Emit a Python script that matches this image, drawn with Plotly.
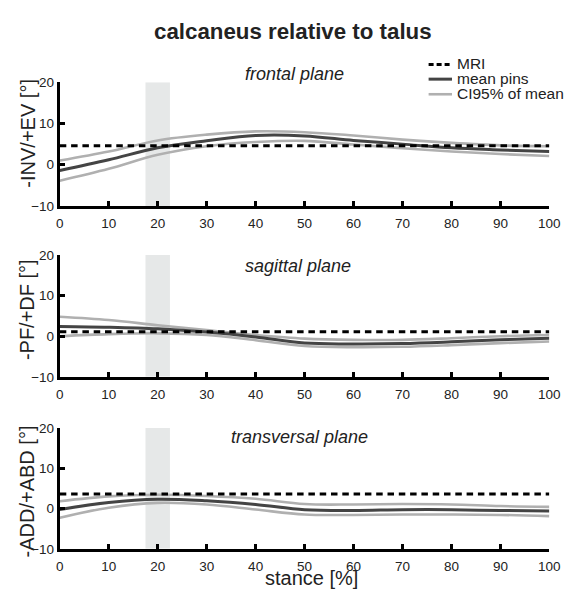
import plotly.graph_objects as go

# ---------------- data ----------------
STANCE = [0, 10, 20, 30, 40, 50, 60, 70, 80, 90, 100]
X_TICKS = [0, 10, 20, 30, 40, 50, 60, 70, 80, 90, 100]
Y_TICKS = [-10, 0, 10, 20]
SHADE = [17.5, 22.5]

PLANES = ["frontal plane", "sagittal plane", "transversal plane"]
Y_TITLES = ["-INV/+EV [°]", "-PF/+DF [°]", "-ADD/+ABD [°]"]

MRI = [4.6, 1.1, 3.6]

frontal_mean = [-1.4, 1.2, 4.1, 5.8, 7.1, 7.0, 5.9, 5.0, 4.1, 3.6, 3.2]
frontal_upper = [1.0, 3.2, 5.9, 7.3, 8.1, 7.9, 7.1, 6.1, 5.3, 4.7, 4.5]
frontal_lower = [-3.9, -1.0, 2.4, 4.5, 5.5, 5.8, 4.9, 4.0, 3.2, 2.6, 2.1]

sagittal_mean = [2.4, 2.2, 1.8, 1.0, -0.2, -1.7, -1.9, -1.8, -1.4, -0.9, -0.5]
sagittal_upper = [4.8, 4.0, 2.7, 1.5, 0.3, -0.6, -0.9, -0.9, -0.5, 0.0, 0.3]
sagittal_lower = [0.0, 0.5, 0.7, 0.3, -1.0, -2.4, -2.7, -2.6, -2.2, -1.7, -1.3]

transversal_mean = [-0.25, 1.5, 2.3, 1.9, 1.0, -0.3, -0.5, -0.3, -0.3, -0.5, -0.6]
transversal_upper = [1.8, 3.0, 3.4, 3.1, 2.4, 1.1, 1.0, 1.1, 1.0, 0.6, 0.4]
transversal_lower = [-2.3, 0.2, 1.4, 1.0, -0.25, -1.5, -1.6, -1.5, -1.5, -1.6, -1.9]

MEANS = [frontal_mean, sagittal_mean, transversal_mean]
UPPERS = [frontal_upper, sagittal_upper, transversal_upper]
LOWERS = [frontal_lower, sagittal_lower, transversal_lower]

LEGEND_LABELS = ["MRI", "mean pins", "CI95% of mean"]

# ---------------- layout constants ----------------
W, H = 574, 599
FONT = "Liberation Sans, Arial, sans-serif"
C_MEAN = "#444444"
C_CI = "#b0b0b0"
C_SHADE = "#e6e8e8"

def px(xp):
    return xp / W

def py(yp):
    return 1 - yp / H

X_DOMAIN = [px(57.3), px(560)]
Y_PIX = [(77.3, 204.0), (254.3, 379.3), (431.7, 555.7)]  # (top, bottom)
X_LABEL_STANDOFF = [3, 3, 3]
SUB_TITLE_POS = [(298, 69), (302, 266), (303, 441)]
Y_TITLE_POS = [(24.5, 129), (23.5, 310), (23.5, 497)]

fig = go.Figure()

for i in range(3):
    xa = "x" if i == 0 else f"x{i+1}"
    ya = "y" if i == 0 else f"y{i+1}"
    common = dict(xaxis=xa, yaxis=ya, mode="lines", showlegend=False, hoverinfo="skip")
    fig.add_trace(go.Scatter(x=STANCE, y=UPPERS[i], line=dict(color=C_CI, width=2.6, shape="spline"), **common))
    fig.add_trace(go.Scatter(x=STANCE, y=LOWERS[i], line=dict(color=C_CI, width=2.6, shape="spline"), **common))
    fig.add_trace(go.Scatter(x=STANCE, y=MEANS[i], line=dict(color=C_MEAN, width=3, shape="spline"), **common))
    fig.add_trace(go.Scatter(x=[X_TICKS[0], X_TICKS[-1]], y=[MRI[i], MRI[i]],
                             line=dict(color="black", width=3, dash="6.5px,4.8px"), **common))

    fig.add_shape(type="rect", xref=xa, yref=ya, x0=SHADE[0], x1=SHADE[1],
                  y0=Y_TICKS[0], y1=Y_TICKS[-1], fillcolor=C_SHADE, line_width=0, layer="below")

    top, bot = Y_PIX[i]
    axsuffix = "" if i == 0 else str(i + 1)
    fig.layout["xaxis" + axsuffix] = dict(
        domain=X_DOMAIN, anchor=ya, range=[0, 100], tickvals=X_TICKS,
        showline=True, linewidth=3, linecolor="black", ticks="inside", ticklen=5,
        tickwidth=2.5, tickcolor="black", showgrid=False, zeroline=False,
        ticklabelstandoff=X_LABEL_STANDOFF[i],
        tickfont=dict(size=13.5, color="#222", family=FONT),
    )
    fig.layout["yaxis" + axsuffix] = dict(
        domain=[py(bot), py(top)], anchor=xa, range=[Y_TICKS[0], Y_TICKS[-1]], tickvals=Y_TICKS,
        showline=True, linewidth=3, linecolor="black", ticks="inside", ticklen=5,
        tickwidth=2.5, tickcolor="black", showgrid=False, zeroline=False,
        tickfont=dict(size=13.5, color="#222", family=FONT),
    )

    sx, sy = SUB_TITLE_POS[i]
    fig.add_annotation(x=px(sx), y=py(sy), xref="paper", yref="paper", text=PLANES[i],
                       showarrow=False, xanchor="center", yanchor="middle",
                       font=dict(size=18, color="#222", family=FONT, style="italic"))
    tx, ty = Y_TITLE_POS[i]
    fig.add_annotation(x=px(tx), y=py(ty), xref="paper", yref="paper", text=Y_TITLES[i],
                       showarrow=False, xanchor="center", yanchor="middle", textangle=-90,
                       font=dict(size=20, color="#222", family=FONT))

# main title
fig.add_annotation(x=px(297), y=py(25), xref="paper", yref="paper",
                   text="<b>calcaneus relative to talus</b>", showarrow=False,
                   xanchor="center", yanchor="middle",
                   font=dict(size=22.3, color="#222", family=FONT))
# x-axis title
fig.add_annotation(x=px(316), y=py(586), xref="paper", yref="paper", text="stance [%]",
                   showarrow=False, xanchor="center", yanchor="middle",
                   font=dict(size=20, color="#222", family=FONT))

# manual legend
LEG_TEXT_ROWS = [58, 73.5, 89]
LEG_LINE_ROWS = [59, 74, 89.5]
LEG_STYLES = [dict(color="black", width=3, dash="5px,3px"),
              dict(color=C_MEAN, width=3),
              dict(color=C_CI, width=2.6)]
for lab, yt, yl, st in zip(LEGEND_LABELS, LEG_TEXT_ROWS, LEG_LINE_ROWS, LEG_STYLES):
    fig.add_shape(type="line", xref="paper", yref="paper", x0=px(436), x1=px(460),
                  y0=py(yl), y1=py(yl), line=st)
    fig.add_annotation(x=px(463), y=py(yt), xref="paper", yref="paper", text=lab,
                       showarrow=False, xanchor="left", yanchor="middle",
                       font=dict(size=15.5, color="#222", family=FONT))

fig.update_layout(
    width=W, height=H, margin=dict(l=0, r=0, t=0, b=0),
    paper_bgcolor="white", plot_bgcolor="white",
    font=dict(family=FONT, color="#222"),
)

fig.write_html("out.html")
